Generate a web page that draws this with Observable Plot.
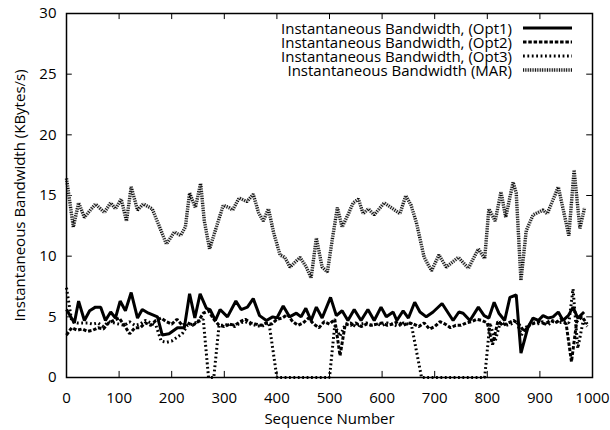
<!DOCTYPE html>
<html><head><meta charset="utf-8">
<script src="https://cdn.jsdelivr.net/npm/d3@7"></script>
<script src="https://cdn.jsdelivr.net/npm/@observablehq/plot@0.6"></script>
<style>body{margin:0;background:#fff}</style>
</head><body><div id="chart"></div>
<script>
const seriesNames = ["Instantaneous Bandwidth, (Opt1)", "Instantaneous Bandwidth, (Opt2)", "Instantaneous Bandwidth, (Opt3)", "Instantaneous Bandwidth (MAR)"];
const xTicks = [0,100,200,300,400,500,600,700,800,900,1000];
const yTicks = [0,5,10,15,20,25,30];
const xLabel = "Sequence Number";
const yLabel = "Instantaneous Bandwidth (KBytes/s)";

const opt1X = [0,15,23,34,44,55,65,74,84,93,102,112,123,135,144,156,173,182,195,211,224,234,244,254,266,273,283,292,306,322,332,344,355,367,380,392,400,412,424,437,446,455,465,475,486,502,513,524,535,547,560,573,585,598,608,621,628,640,650,662,672,684,697,714,726,735,746,754,767,783,794,803,813,822,833,843,855,864,877,887,897,906,916,925,935,944,954,963,972,984];
const opt1Y = [5.6,4.5,6.3,4.7,5.5,5.8,5.8,4.7,5.4,4.9,6.3,5.5,7.0,4.9,5.6,5.3,5.0,3.5,3.6,4.1,4.1,6.9,4.9,6.9,5.7,5.6,4.7,5.6,5.0,6.3,5.6,5.8,6.5,5.1,4.7,5.0,4.9,5.9,5.0,5.3,5.0,5.7,4.7,5.8,4.9,6.6,5.1,5.5,4.7,5.6,4.7,5.6,4.7,5.8,5.0,5.4,4.7,5.5,4.9,6.2,5.4,5.0,5.4,6.1,5.3,4.7,5.4,5.3,4.7,5.8,5.1,4.9,6.2,5.3,4.7,6.6,6.8,2.0,4.1,4.9,4.7,5.1,4.9,5.0,5.4,4.7,5.1,5.8,4.9,5.4];

const opt2X = [0,10,20,30,40,50,60,70,80,90,100,110,120,130,140,150,160,170,180,190,200,210,220,230,240,250,260,270,280,290,300,310,320,330,340,350,360,370,380,390,400,410,420,430,440,450,460,470,480,490,500,510,520,530,540,550,560,570,580,590,600,610,620,630,640,650,660,670,680,690,700,710,720,730,740,750,760,770,780,790,800,810,820,830,840,850,860,870,880,890,900,910,920,930,940,950,960,970,980,990];
const opt2Y = [3.5,4.1,3.9,4.0,3.8,3.9,4.1,4.0,4.5,4.7,4.9,4.3,3.6,4.1,4.1,4.5,4.3,4.7,4.9,4.6,4.4,4.8,4.3,4.5,4.3,4.6,5.3,5.5,4.8,4.3,4.2,4.4,4.3,4.6,4.8,4.5,4.4,4.3,4.5,4.4,4.8,4.9,5.2,4.6,4.3,4.5,4.9,4.4,4.1,4.6,4.4,4.8,1.8,4.4,4.3,4.5,4.2,4.4,4.3,4.4,4.5,4.3,4.4,4.6,4.3,4.5,4.4,4.2,4.5,4.0,4.2,4.6,4.4,4.1,4.3,4.3,4.5,4.6,4.8,4.7,4.5,2.7,4.6,4.3,4.5,4.7,4.4,3.8,4.3,4.5,4.6,4.4,4.7,4.5,4.8,4.4,1.3,4.6,5.0,4.4];

const opt3X = [0,10,20,30,40,50,60,70,80,90,100,110,120,130,140,150,160,170,180,190,200,210,220,230,240,250,260,270,280,290,300,310,320,330,340,350,360,370,385,400,410,420,430,440,450,460,470,480,490,500,510,520,530,540,550,560,570,580,590,600,610,620,630,640,650,655,675,690,700,710,720,730,740,750,760,770,780,795,805,815,825,835,845,855,865,875,885,895,905,915,925,935,945,955,963,972,982,990];
const opt3Y = [7.4,4.6,4.5,4.5,4.5,4.4,4.5,4.2,4.6,4.5,4.4,4.3,4.6,4.3,4.4,4.7,4.5,4.3,3.0,2.9,3.0,3.3,3.6,4.3,4.4,4.6,4.8,0,0,4.3,4.3,4.4,4.2,4.5,4.6,4.4,4.3,4.2,4.5,0,0,0,0,0,0,0,0,0,0,0,4.3,3.4,4.4,4.5,4.2,4.4,4.5,4.3,4.4,4.3,4.5,4.4,4.2,4.5,4.4,4.5,0,0,0,0,0,0,0,0,0,0,0,0,4.5,3.0,4.6,4.3,4.4,4.7,3.5,4.2,4.5,4.4,4.6,4.3,4.7,4.5,4.6,4.5,7.3,2.4,4.6,4.2];

const marX = [0,13,23,34,55,72,84,93,104,114,123,135,146,163,177,190,205,217,226,234,245,255,262,272,285,298,309,316,328,343,355,365,374,384,394,406,415,425,444,456,465,475,486,496,505,515,524,536,545,555,564,574,585,604,634,645,655,665,680,694,708,722,745,764,783,795,803,815,826,835,849,855,864,874,887,906,914,935,955,965,976,985];
const marY = [16.4,12.4,14.4,13.2,14.3,13.6,14.4,13.9,14.7,12.9,15.7,13.8,14.3,13.9,12.4,11.0,12.0,11.7,12.4,15.2,14.0,16.0,12.9,10.6,12.4,14.2,14.0,13.8,14.8,14.5,15.1,13.6,12.9,13.9,11.9,10.1,9.9,9.1,9.9,9.1,8.2,11.5,9.1,8.7,11.3,14.0,12.4,13.5,14.4,14.7,13.5,13.9,13.4,14.4,13.5,15.0,14.2,12.8,9.9,8.8,10.1,9.1,9.9,9.0,10.6,9.8,13.9,12.9,15.3,13.2,16.1,15.2,8.0,12.1,13.4,13.8,13.5,15.7,11.7,17.1,12.3,14.0];

const seriesX = [opt1X, opt2X, opt3X, marX];
const seriesY = [opt1Y, opt2Y, opt3Y, marY];

// styles (kept apart from data)
const lineStyles = [
  [{stroke:"#000", strokeWidth:3}],
  [{stroke:"#000", strokeWidth:3, strokeDasharray:"3.5,1.8"}],
  [{stroke:"#000", strokeWidth:3, strokeDasharray:"1.8,2.6"}],
  [{stroke:"#d4d4d4", strokeWidth:3.4}, {stroke:"#000", strokeWidth:3.4, strokeDasharray:"0.9,1.5"}]
];
const FONT = "'Open Sans', sans-serif";
const FS = 15;

const rows = [];
seriesNames.forEach((s, i) => seriesX[i].forEach((x, j) => rows.push({series: s, x, y: seriesY[i][j]})));

const lineMarks = [];
seriesNames.forEach((s, i) => {
  lineStyles[i].forEach(st => lineMarks.push(Plot.line(rows.filter(d => d.series === s), {x:"x", y:"y", strokeLinejoin:"miter", strokeLinecap:"butt", ...st})));
});

const plot = Plot.plot({
  width: 610, height: 430,
  marginLeft: 66, marginRight: 18, marginTop: 13, marginBottom: 53,
  style: {fontFamily: FONT, fontSize: FS + "px", background: "#fff", color: "#000"},
  x: {domain: [0, 1000]},
  y: {domain: [0, 30]},
  marks: [
    Plot.axisX(xTicks, {tickSize: 0, tickPadding: 15, label: null, fontSize: FS, tickFormat: d => String(d)}),
    Plot.axisY(yTicks, {tickSize: 0, tickPadding: 10, label: null, fontSize: FS, tickFormat: d => String(d)}),
    Plot.ruleX(xTicks.slice(1, -1), {y1: 0, y2: 0.5, stroke: "#000", strokeWidth: 1}),
    Plot.ruleX(xTicks.slice(1, -1), {y1: 29.5, y2: 30, stroke: "#000", strokeWidth: 1}),
    Plot.ruleY(yTicks.slice(1, -1), {x1: 0, x2: 11, stroke: "#000", strokeWidth: 1}),
    Plot.ruleY(yTicks.slice(1, -1), {x1: 989, x2: 1000, stroke: "#000", strokeWidth: 1}),
    ...lineMarks,
    Plot.frame({stroke: "#000", strokeWidth: 1.5}),
    Plot.text([xLabel], {frameAnchor: "bottom", lineAnchor: "middle", dy: 42, fontSize: FS, text: d => d}),
    Plot.text([yLabel], {frameAnchor: "left", textAnchor: "middle", lineAnchor: "middle", dx: -46, rotate: -90, fontSize: FS, text: d => d})
  ]
});
document.getElementById("chart").appendChild(plot);

// legend inside the frame, top-right
const svg = d3.select(plot);
const lg = svg.append("g").attr("font-family", FONT).attr("font-size", FS);
seriesNames.forEach((s, i) => {
  const cy = 28 + i * 14;
  lg.append("text").attr("x", 512).attr("y", cy).attr("text-anchor", "end").attr("dominant-baseline", "central").attr("fill", "#000").text(s);
  lineStyles[i].forEach(st => {
    lg.append("line").attr("x1", 523).attr("x2", 572).attr("y1", cy).attr("y2", cy)
      .attr("stroke", st.stroke).attr("stroke-width", st.strokeWidth)
      .attr("stroke-dasharray", st.strokeDasharray || null);
  });
});
</script>
</body></html>
